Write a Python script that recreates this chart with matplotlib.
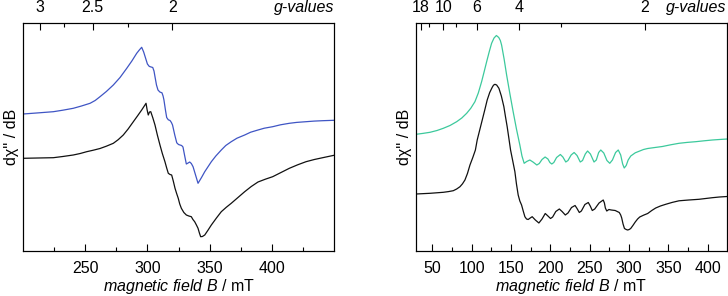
import matplotlib
matplotlib.use("Agg")
import matplotlib.pyplot as plt
from matplotlib.ticker import NullLocator

plt.rcParams['font.family'] = ['Liberation Sans', 'DejaVu Sans']
plt.rcParams['mathtext.fontset'] = 'custom'
plt.rcParams['mathtext.rm'] = 'Liberation Sans'
plt.rcParams['mathtext.it'] = 'Liberation Sans:italic'

# ---------------- data (left panel) ----------------
left_blue_B = [200, 212, 224.4, 232, 240.4, 247, 253.9, 258, 261.9, 267, 272.6, 278, 283.4,
               287.5, 291.4, 293.5, 295.4, 297, 298.5, 300, 301.5, 303, 304.3, 305.3,
               306.1, 307.3, 308.5, 310, 311.7, 312.6, 313.3, 314.5, 315.5, 316.8, 318.2,
               319.3, 320.2, 322, 323.6, 325, 326.2, 327.5, 328.6, 330, 331.3, 332.7, 334,
               335.3, 336.7, 338.7, 340.7, 343.5, 346.1, 351.4, 355, 359.4, 363, 367.4,
               372, 378.2, 383, 388.9, 394, 400.7, 407, 414.1, 420, 427.5, 434, 440.9, 450]
left_blue_y = [137, 138.1, 139.3, 140.8, 142.7, 145, 147.7, 150.5, 154.3, 159.5, 166, 173.5,
               182.7, 190, 197.7, 201, 203.7, 199, 193, 187, 184.6, 184, 183.5, 180,
               174.3, 166, 161, 159, 158.2, 155, 151, 141, 133.5, 131.2, 130.5,
               128.5, 126, 116, 108.2, 106.5, 106, 105.5, 104, 95, 87, 88, 89,
               87.5, 84.3, 76, 67.7, 73.5, 79.3, 89.3, 95, 101, 105.5, 109.3,
               112.8, 116, 118.8, 121, 122.8, 124.3, 126.2, 127.7, 128.6, 129.3, 129.9, 130.3, 130.7]

left_black_B = [200, 212, 224.4, 232, 240.4, 246, 251.2, 256.5, 261.9, 267, 272.6, 276.5,
                280.6, 284.5, 288.7, 292, 295.4, 297.5, 298.9, 299.8, 300.7, 301.7, 302.7,
                304.4, 306.1, 308, 310.1, 312, 314.1, 315.5, 316.8, 318.2, 319.5, 320.8,
                322.2, 323.5, 324.8, 326, 327.3, 329.3, 331.3, 333.3, 335.3, 336.6, 338,
                339.4, 340.7, 341.8, 342.8, 344.2, 346.1, 348.7, 351.4, 355.5, 359.4, 363.4,
                367.4, 372.8, 378.2, 383.5, 388.9, 394.8, 400.7, 407.4, 414.1, 420.8, 427.5,
                434.2, 440.9, 450]
left_black_y = [92.7, 93, 93.3, 94.5, 96, 97.5, 99.3, 100.8, 102.5, 104.8, 107.7, 111.3,
                116, 122, 129.3, 135, 141, 145, 147.7, 141, 136, 139, 139.3,
                133, 126, 116, 106, 97.5, 89.3, 83, 77.7, 76.5, 76, 70,
                62.7, 57.5, 52.7, 47, 42.7, 38.5, 36, 35, 34.3, 31.5, 29.3,
                26, 22.7, 18, 14.3, 14.5, 16, 20.8, 26, 33, 39.3, 43.7,
                47.7, 53.5, 59.3, 64.5, 69, 71.8, 74.3, 78.5, 82.7, 86.2, 89.3,
                91.5, 93.3, 95.7]

left_xticks = [250, 300, 350, 400]
left_g_major = [3, 2.5, 2]
left_g_labels = ['3', '2.5', '2']
left_g_minor = [2.75, 2.25]

# ---------------- data (right panel) ----------------
right_green_B = [29.3, 38, 47.1, 56, 64, 72.5, 81, 87.5, 93.7, 99, 104.2, 108.5, 112.7, 116,
                 119.1, 122.3, 125.4, 128.5, 131.5, 134.5, 136.5, 138.1, 141.3, 144.5,
                 148.7, 152.8, 157, 161.3, 164, 166.8, 170, 174, 178, 182.9, 186, 189.5,
                 193.4, 197, 199.5, 201.9, 204.5, 208, 212.8, 216, 219.7, 222.5, 226.5,
                 230.3, 234, 238.1, 241, 244.5, 247.4, 251, 255.6, 258.5, 261.5, 264.2,
                 268, 272, 275.6, 279, 283, 286.4, 289.5, 292, 294, 296.5, 299, 302.3,
                 308, 313.7, 318.5, 323.8, 333, 342.5, 353, 363.6, 374, 384.8, 395.5,
                 406, 415, 425]
right_green_y = [116.7, 117.6, 118.7, 120.5, 122.7, 125.5, 129.3, 133, 137.7, 142.8, 149.3,
                 158, 169.3, 179.5, 189.3, 199, 207.7, 213, 215.5, 213.5, 210.5, 206, 192,
                 176, 157, 139.3, 122, 106, 95, 87.7, 89.5, 91, 89, 86, 87.5, 91.5,
                 94, 92, 88.5, 87, 88.5, 93.5, 96.5, 94, 89, 90.5, 96,
                 98.5, 95.5, 89, 90.5, 97, 100, 97, 89, 91, 98.5, 101,
                 98, 90.5, 87.7, 91, 98.5, 101, 96, 87, 83, 85.5, 91, 95,
                 98.2, 100, 101.5, 102.5, 103.5, 104.5, 106.2, 107.7, 108.6, 109.3, 110.2,
                 111, 111.5, 112]

right_black_B = [29.3, 47.1, 64, 70.5, 76.7, 81, 85.2, 88.4, 91.5, 94.7, 97.9, 101.5, 104.8,
                 107.1, 110.3, 113.5, 116.7, 119.8, 123, 126.2, 127.8, 129.6, 131.8, 134.7,
                 137.8, 141, 143, 145.2, 147.4, 149.5, 152.3, 155, 157, 159.2, 161.3, 163.5,
                 165.6, 167.7, 169.8, 171.9, 174.5, 177, 181, 185.5, 189.5, 193.6, 197,
                 200.3, 203, 207, 211.5, 215, 219.1, 222.5, 227, 231.5, 234, 236.9, 239.5,
                 244, 248.3, 250.8, 253.4, 256.5, 262, 267.3, 268.8, 270, 271.8, 274.5,
                 277.5, 282.5, 287.7, 289.5, 290.8, 292.5, 294.3, 296.5, 298.4, 300.3,
                 302.2, 305, 308, 311, 313.7, 318.5, 323.8, 329, 334, 340, 346.7, 355,
                 363.6, 376, 389, 397.5, 406, 415, 425]
right_black_y = [57, 57.7, 58.7, 59.4, 60.3, 62, 64.3, 67.2, 71, 77.5, 86, 93.5, 101,
                 111, 121, 131, 141, 151, 158.5, 163.7, 165.8, 166.7, 166, 162.7,
                 155, 144.3, 134.5, 124.3, 112.5, 101, 90, 79.3, 67, 56, 50, 46,
                 40, 34.3, 32, 31.5, 33, 34.3, 31, 28, 32, 37.5, 35,
                 32.5, 34, 39.5, 42, 39.5, 36, 38, 43.5, 45.5, 42.5, 38.5, 40,
                 46.5, 48.5, 45, 40.5, 42, 48, 51, 48, 43, 40, 41.5,
                 41, 40.5, 38.5, 36, 33, 27, 22.5, 21.5, 21, 21.5,
                 22.5, 25.5, 29, 32, 34, 35.8, 37.5, 40.5, 43, 45, 46.7, 48.6,
                 50.2, 51, 51.7, 52.5, 53.3, 54, 54.5]

right_xticks = [50, 100, 150, 200, 250, 300, 350, 400]
right_g_major = [18, 10, 6, 4, 2]
right_g_labels = ['18', '10', '6', '4', '2']
right_g_minor = [14, 8, 3]

G_CONST = 640.0  # B(mT) * g for the microwave frequency used

BLUE = '#3f55c4'
GREEN = '#3cc99c'
BLACK = '#111111'

fig = plt.figure(figsize=(7.28, 2.96), dpi=100)
axL = fig.add_axes([23/728, 45/296, 311/728, 228/296])
axR = fig.add_axes([416/728, 45/296, 310.5/728, 228/296])

FS = 11.5


def style(ax, xlim, xticks, gmaj, glab, gmin, lines):
    for (xs, ys, c) in lines:
        ax.plot(xs, ys, color=c, lw=0.9, solid_joinstyle='round')
    ax.set_xlim(*xlim)
    ax.set_ylim(0, 228)
    ax.set_xticks(xticks)
    ax.set_xticklabels([str(t) for t in xticks], fontsize=FS)
    minors = [t + 25 for t in range(0, 500, 50) if xlim[0] < t + 25 < xlim[1]]
    ax.set_xticks(minors, minor=True)
    ax.yaxis.set_major_locator(NullLocator())
    ax.yaxis.set_minor_locator(NullLocator())
    ax.tick_params(axis='x', which='major', direction='in', length=5, width=0.8, pad=7)
    ax.tick_params(axis='x', which='minor', direction='in', length=3, width=0.8)
    for s in ax.spines.values():
        s.set_linewidth(0.8)
    ax.set_xlabel(r'$\it{magnetic\ field\ B}$ / mT', fontsize=FS, labelpad=1)
    ax.set_ylabel("d\u03c7'' / dB", fontsize=FS, labelpad=3)
    top = ax.twiny()
    top.set_xlim(*xlim)
    top.set_xticks([G_CONST / g for g in gmaj])
    top.set_xticklabels(glab, fontsize=FS)
    top.set_xticks([G_CONST / g for g in gmin], minor=True)
    top.tick_params(axis='x', which='major', direction='in', length=5, width=0.8, pad=6)
    top.tick_params(axis='x', which='minor', direction='in', length=3, width=0.8)
    for s in top.spines.values():
        s.set_linewidth(0.8)
    ax.text(1.0, 1.035, 'g-values', transform=ax.transAxes, ha='right', va='bottom',
            fontsize=FS, style='italic')


style(axL, (200, 450), left_xticks, left_g_major, left_g_labels, left_g_minor,
      [(left_blue_B, left_blue_y, BLUE), (left_black_B, left_black_y, BLACK)])
style(axR, (29.3, 424), right_xticks, right_g_major, right_g_labels, right_g_minor,
      [(right_green_B, right_green_y, GREEN), (right_black_B, right_black_y, BLACK)])

fig.savefig('out.png', dpi=100)
